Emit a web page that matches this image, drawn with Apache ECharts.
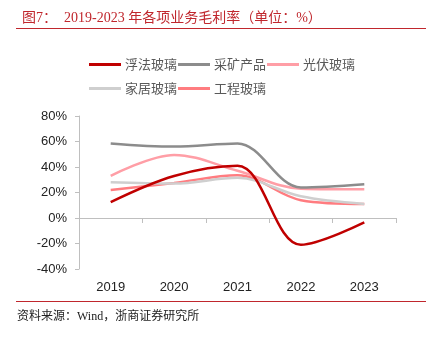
<!DOCTYPE html>
<html><head><meta charset="utf-8">
<script src="https://cdn.jsdelivr.net/npm/echarts@6/dist/echarts.min.js"></script>
<style>html,body{margin:0;padding:0;background:#fff;}#c{width:429px;height:337px;}</style>
</head><body><div id="c"></div>
<script>
const categories = ['2019','2020','2021','2022','2023'];
const floatGlass = [12.5, 33, 41, -21, -3.5];
const mining = [58.5, 56, 58.5, 24, 26.5];
const pv = [33, 49.5, 37, 23, 22.5];
const homeGlass = [28, 27, 31.5, 17, 11];
const engGlass = [22, 27.5, 33.5, 14, 11];
const yTicks = [-40, -20, 0, 20, 40, 60, 80];

const names = ['浮法玻璃','采矿产品','光伏玻璃','家居玻璃','工程玻璃'];
const colors = ['#C00000','#8C8C8C','#FF9EA6','#CFCFCF','#FF7C80'];
const datas = [floatGlass, mining, pv, homeGlass, engGlass];

const chart = echarts.init(document.getElementById('c'));
const legendCommon = {
  itemWidth: 32, itemHeight: 3, itemGap: 1, icon: 'rect',
  textStyle: {fontSize: 13, color: '#595959', fontFamily: 'Noto Sans CJK SC', padding:[0,0,0,-1]},
  selectedMode: false
};
chart.setOption({
  animation: false,
  title: {
    text: '图7：  2019-2023 年各项业务毛利率（单位：%）',
    left: 17, top: 6,
    textStyle: {fontSize: 14, color: '#C0272D', fontWeight: 'normal', fontFamily: 'Liberation Serif, Noto Sans CJK SC'}
  },
  graphic: [
    {type:'line', shape:{x1:16,y1:28.5,x2:426,y2:28.5}, style:{stroke:'#C0272D', lineWidth:1}},
    {type:'line', shape:{x1:16,y1:301.5,x2:426,y2:301.5}, style:{stroke:'#C0272D', lineWidth:1}},
    {type:'text', left: 17, top: 311, style:{text:'资料来源：Wind，浙商证券研究所', fontSize: 12, fill:'#222', fontFamily:'Liberation Serif, Noto Sans CJK SC'}}
  ],
  legend: [
    Object.assign({}, legendCommon, {data: names.slice(0,3), left: 84, top: 53}),
    Object.assign({}, legendCommon, {data: names.slice(3), left: 84, top: 77})
  ],
  grid: {left: 79, right: 33, top: 116, bottom: 68, containLabel: false},
  xAxis: {
    type: 'category', data: categories, boundaryGap: true,
    axisLine: {onZero: true, lineStyle: {color: '#BFBFBF', width: 1}},
    axisTick: {show: true, inside: false, length: 5, lineStyle: {color: '#BFBFBF'}},
    axisLabel: {fontSize: 13, color: '#222', fontFamily: 'Liberation Sans', margin: 12}
  },
  yAxis: {
    type: 'value', min: -40, max: 80, interval: 20,
    axisLine: {show: true, lineStyle: {color: '#BFBFBF'}},
    axisTick: {show: true, length: 4, lineStyle: {color: '#BFBFBF'}},
    splitLine: {show: false},
    axisLabel: {fontSize: 13, color: '#222', fontFamily: 'Liberation Sans', margin: 12,
      formatter: v => yTicks.includes(v) ? v + '%' : ''}
  },
  series: names.map((n, i) => ({
    name: n, type: 'line', smooth: 0.35, data: datas[i], symbol: 'none',
    lineStyle: {color: colors[i], width: 2.5}, itemStyle: {color: colors[i]},
    z: 10 - i
  }))
});
</script></body></html>
